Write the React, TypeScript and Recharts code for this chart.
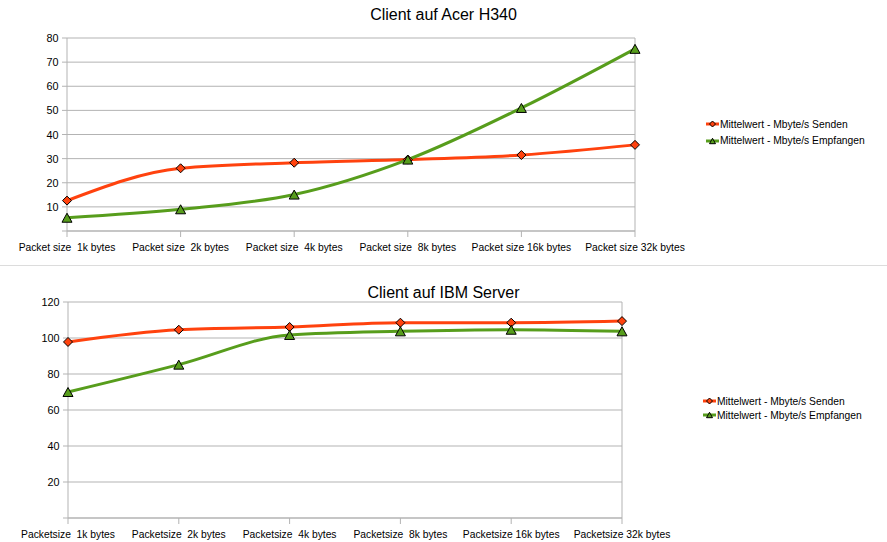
import React from 'react';
import {
  LineChart,
  Line,
  XAxis,
  YAxis,
  CartesianGrid,
  ReferenceLine,
} from 'recharts';

// Daten
const acerCategories = [
  'Packet size  1k bytes',
  'Packet size  2k bytes',
  'Packet size  4k bytes',
  'Packet size  8k bytes',
  'Packet size 16k bytes',
  'Packet size 32k bytes',
];
const acerSenden = [12.6, 26.0, 28.3, 29.6, 31.5, 35.7];
const acerEmpfangen = [5.5, 9.0, 15.1, 29.6, 51.0, 75.5];
const acerTicks = [0, 10, 20, 30, 40, 50, 60, 70, 80];

const ibmCategories = [
  'Packetsize  1k bytes',
  'Packetsize  2k bytes',
  'Packetsize  4k bytes',
  'Packetsize  8k bytes',
  'Packetsize 16k bytes',
  'Packetsize 32k bytes',
];
const ibmSenden = [97.8, 104.6, 106.1, 108.5, 108.5, 109.4];
const ibmEmpfangen = [70.0, 85.2, 101.7, 103.7, 104.6, 103.7];
const ibmTicks = [0, 20, 40, 60, 80, 100, 120];

const seriesNames = ['Mittelwert - Mbyte/s Senden', 'Mittelwert - Mbyte/s Empfangen'];

const FONT = '"Liberation Sans", Arial, sans-serif';
const RED = '#ff420e';
const GREEN = '#579d1c';
const GRID = '#b3b3b3';

const Diamond = ({ cx, cy, r = 4.5 }: { cx: number; cy: number; r?: number }) => (
  <polygon
    points={`${cx},${cy - r} ${cx + r},${cy} ${cx},${cy + r} ${cx - r},${cy}`}
    fill={RED}
    stroke="#000"
    strokeWidth={1}
  />
);

const Triangle = ({ cx, cy, s = 5 }: { cx: number; cy: number; s?: number }) => (
  <polygon
    points={`${cx},${cy - s * 0.9} ${cx + s},${cy + s * 0.9} ${cx - s},${cy + s * 0.9}`}
    fill={GREEN}
    stroke="#000"
    strokeWidth={1}
  />
);

const XTick = (props: any) => {
  const { x, y, payload } = props;
  return (
    <text
      x={x}
      y={y}
      dy={12}
      textAnchor="middle"
      fontSize={10.3}
      fontFamily={FONT}
      fill="#000"
      xmlSpace="preserve"
      style={{ whiteSpace: 'pre' }}
    >
      {payload.value}
    </text>
  );
};

const YTick = (props: any) => {
  const { x, y, payload } = props;
  if (payload.value === 0) return <g />;
  return (
    <text x={x - 1.5} y={y} dy={4} textAnchor="end" fontSize={10.8} fontFamily={FONT} fill="#000">
      {payload.value}
    </text>
  );
};

interface ChartProps {
  title: string;
  categories: string[];
  senden: number[];
  empfangen: number[];
  ticks: number[];
  top: number;
  height: number;
  plotLeft: number;
  plotRight: number;
  plotTop: number;
  plotBottom: number;
  titleY: number;
  legendX: number;
  legendRows: number[];
}

const Legend = ({ x, rows }: { x: number; rows: number[] }) => (
  <>
    {seriesNames.map((name, i) => (
      <div
        key={name}
        style={{
          position: 'absolute',
          left: x,
          top: rows[i] - 7,
          height: 14,
          display: 'flex',
          alignItems: 'center',
          fontFamily: FONT,
          fontSize: 10.3,
          color: '#000',
          whiteSpace: 'nowrap',
        }}
      >
        <svg width={13} height={10} style={{ marginRight: 1 }}>
          <line x1={0} y1={5} x2={13} y2={5} stroke={i === 0 ? RED : GREEN} strokeWidth={3} />
          {i === 0 ? <Diamond cx={6.5} cy={5} r={3} /> : <Triangle cx={6.5} cy={5} s={3} />}
        </svg>
        <span>{name}</span>
      </div>
    ))}
  </>
);

const ClientChart = (p: ChartProps) => {
  const data = p.categories.map((c, i) => ({
    category: c,
    senden: p.senden[i],
    empfangen: p.empfangen[i],
  }));
  const xAxisHeight = 20;
  const yMax = p.ticks[p.ticks.length - 1];
  return (
    <div style={{ position: 'absolute', left: 0, top: p.top, width: 887, height: p.height }}>
      <div
        style={{
          position: 'absolute',
          left: 0,
          width: 887,
          top: p.titleY - 8,
          textAlign: 'center',
          fontFamily: FONT,
          fontSize: 16,
          lineHeight: '16px',
          color: '#000',
        }}
      >
        {p.title}
      </div>
      <LineChart
        width={887}
        height={p.height}
        data={data}
        margin={{
          top: p.plotTop,
          right: 887 - p.plotRight,
          bottom: p.height - p.plotBottom - xAxisHeight,
          left: 0,
        }}
      >
        <CartesianGrid vertical={false} stroke={GRID} />
        <XAxis
          dataKey="category"
          height={xAxisHeight}
          interval={0}
          tickSize={6}
          stroke={GRID}
          tick={<XTick />}
        />
        <YAxis
          width={p.plotLeft}
          domain={[0, yMax]}
          ticks={p.ticks}
          interval={0}
          tickSize={5}
          stroke={GRID}
          tick={<YTick />}
        />
        <ReferenceLine x={p.categories[p.categories.length - 1]} stroke={GRID} />
        <Line
          type="monotone"
          dataKey="senden"
          name={seriesNames[0]}
          stroke={RED}
          strokeWidth={3}
          isAnimationActive={false}
          activeDot={false}
          dot={(d: any) => <Diamond key={`s${d.index}`} cx={d.cx} cy={d.cy} />}
        />
        <Line
          type="monotone"
          dataKey="empfangen"
          name={seriesNames[1]}
          stroke={GREEN}
          strokeWidth={3}
          isAnimationActive={false}
          activeDot={false}
          dot={(d: any) => <Triangle key={`e${d.index}`} cx={d.cx} cy={d.cy} />}
        />
      </LineChart>
      <Legend x={p.legendX} rows={p.legendRows} />
    </div>
  );
};

export default function App() {
  return (
    <div
      style={{
        position: 'absolute',
        left: 0,
        top: 0,
        width: 887,
        height: 542,
        background: '#fff',
        overflow: 'hidden',
      }}
    >
      <ClientChart
        title="Client auf Acer H340"
        categories={acerCategories}
        senden={acerSenden}
        empfangen={acerEmpfangen}
        ticks={acerTicks}
        top={0}
        height={265}
        plotLeft={67}
        plotRight={635}
        plotTop={38}
        plotBottom={231}
        titleY={15}
        legendX={706}
        legendRows={[124, 140.5]}
      />
      <div style={{ position: 'absolute', left: 0, top: 265, width: 887, height: 1, background: '#dcdcdc' }} />
      <ClientChart
        title="Client auf IBM Server"
        categories={ibmCategories}
        senden={ibmSenden}
        empfangen={ibmEmpfangen}
        ticks={ibmTicks}
        top={265}
        height={277}
        plotLeft={68}
        plotRight={622}
        plotTop={37}
        plotBottom={253}
        titleY={28}
        legendX={703}
        legendRows={[136, 150]}
      />
    </div>
  );
}
